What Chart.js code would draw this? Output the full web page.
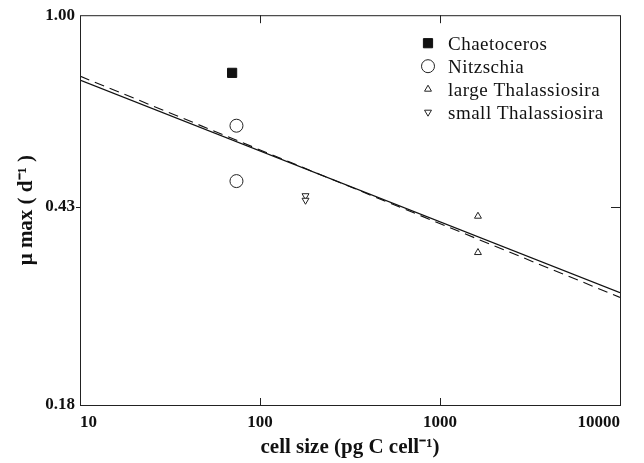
<!DOCTYPE html>
<html>
<head>
<meta charset="utf-8">
<script src="https://cdn.jsdelivr.net/npm/chart.js@4.4.0/dist/chart.umd.min.js"></script>
<style>
html, body { margin: 0; padding: 0; background: #fff; }
</style>
</head>
<body>
<canvas id="grafico" width="644" height="463"></canvas>
<script>
// axis ticks
const xTicks = [10, 100, 1000, 10000];
const yTicks = [0.18, 0.43, 1.00];

// measured points (cell size, mu max)
const chaetoceros = [{x: 70, y: 0.776}];
const nitzschia = [{x: 74, y: 0.615}, {x: 74, y: 0.482}];
const largeThal = [{x: 1625, y: 0.413}, {x: 1625, y: 0.352}];
const smallThal = [{x: 179, y: 0.452}, {x: 179, y: 0.443}];

// fitted lines
const solidFit = [{x: 10, y: 0.752}, {x: 10000, y: 0.295}];
const dashedFit = [{x: 10, y: 0.765}, {x: 10000, y: 0.289}];

const serif = "'Liberation Serif', 'Times New Roman', serif";

function drawSymbol(ctx, ds, x, y) {
    ctx.fillStyle = ds.backgroundColor;
    ctx.strokeStyle = ds.borderColor;
    ctx.lineWidth = ds.borderWidth;
    if (Chart.helpers && Chart.helpers.drawPoint) {
        Chart.helpers.drawPoint(ctx, {
            pointStyle: ds.pointStyle,
            rotation: ds.rotation || 0,
            radius: ds.pointRadius,
            borderWidth: ds.borderWidth
        }, x, y);
    }
}

const boxPlugin = {
    id: 'box',
    afterDraw(chart) {
        const {ctx, chartArea: a, scales} = chart;
        ctx.save();
        ctx.strokeStyle = '#222';
        ctx.lineWidth = 1;
        ctx.strokeRect(a.left + 0.5, a.top + 0.5, a.right - a.left, a.bottom - a.top);

        const seg = (x1, y1, x2, y2) => {
            ctx.beginPath(); ctx.moveTo(x1, y1); ctx.lineTo(x2, y2); ctx.stroke();
        };
        // inner tick marks
        xTicks.slice(1, -1).forEach(v => {
            const px = Math.round(scales.x.getPixelForValue(v)) + 0.5;
            seg(px, a.top, px, a.top + 8);
            seg(px, a.bottom, px, a.bottom - 7);
        });
        yTicks.slice(1, -1).forEach(v => {
            const py = Math.round(scales.y.getPixelForValue(v)) + 0.5;
            seg(a.left - 4, py, a.left, py);
            seg(a.right - 9, py, a.right, py);
        });

        // legend, top right inside the plot
        const symX = a.right - 192;
        const textX = a.right - 172;
        let baseY = a.top + 35;
        ctx.font = '19px ' + serif;
        ctx.textBaseline = 'alphabetic';
        ctx.textAlign = 'left';
        if ('letterSpacing' in ctx) ctx.letterSpacing = '0.5px';
        chart.data.datasets.filter(ds => !ds.showLine).forEach(ds => {
            drawSymbol(ctx, ds, symX, baseY - 7);
            ctx.fillStyle = '#111';
            ctx.fillText(ds.label, textX, baseY);
            baseY += 23;
        });
        ctx.restore();
    }
};

new Chart(document.getElementById('grafico'), {
    type: 'scatter',
    data: {
        datasets: [
            {label: 'Chaetoceros', data: chaetoceros, pointStyle: 'rect', pointRadius: 6.5,
             backgroundColor: '#111', borderColor: '#111', borderWidth: 1},
            {label: 'Nitzschia', data: nitzschia, pointStyle: 'circle', pointRadius: 6.5,
             backgroundColor: '#fff', borderColor: '#222', borderWidth: 1},
            {label: 'large Thalassiosira', data: largeThal, pointStyle: 'triangle', pointRadius: 4,
             backgroundColor: '#fff', borderColor: '#222', borderWidth: 1},
            {label: 'small Thalassiosira', data: smallThal, pointStyle: 'triangle', rotation: 180, pointRadius: 4,
             backgroundColor: '#fff', borderColor: '#222', borderWidth: 1},
            {label: 'fit', data: solidFit, showLine: true, pointRadius: 0,
             borderColor: '#111', borderWidth: 1.3},
            {label: 'fit 2', data: dashedFit, showLine: true, pointRadius: 0,
             borderColor: '#111', borderWidth: 1.1, borderDash: [10, 6]}
        ]
    },
    options: {
        responsive: false,
        animation: false,
        layout: {padding: {left: 0, right: 24, top: 13, bottom: 0}},
        plugins: {legend: {display: false}, tooltip: {enabled: false}},
        scales: {
            x: {
                type: 'logarithmic',
                min: 10,
                max: 10000,
                border: {display: false},
                grid: {display: false, drawTicks: false},
                afterBuildTicks: s => { s.ticks = xTicks.map(v => ({value: v})); },
                afterFit: s => { s.height = 58; },
                ticks: {
                    callback: v => String(v),
                    font: {family: serif, weight: 'bold', size: 17},
                    color: '#111',
                    padding: 7,
                    align: 'inner',
                    maxRotation: 0,
                    autoSkip: false
                },
                title: {
                    display: true,
                    text: 'cell size (pg C cell⁻¹)',
                    font: {family: serif, weight: 'bold', size: 21},
                    color: '#111',
                    padding: {top: 0, bottom: 3}
                }
            },
            y: {
                type: 'logarithmic',
                min: 0.18,
                max: 1.0,
                border: {display: false},
                grid: {display: false, drawTicks: false},
                afterBuildTicks: s => { s.ticks = yTicks.map(v => ({value: v})); },
                afterFit: s => { s.width = 80; },
                ticks: {
                    callback: v => Number(v).toFixed(2),
                    font: {family: serif, weight: 'bold', size: 17},
                    color: '#111',
                    padding: 5,
                    autoSkip: false
                },
                title: {
                    display: true,
                    text: 'μ max ( d⁻¹ )',
                    font: {family: serif, weight: 'bold', size: 21},
                    color: '#111',
                    padding: {top: 14, bottom: 0}
                }
            }
        }
    },
    plugins: [boxPlugin]
});
</script>
</body>
</html>
